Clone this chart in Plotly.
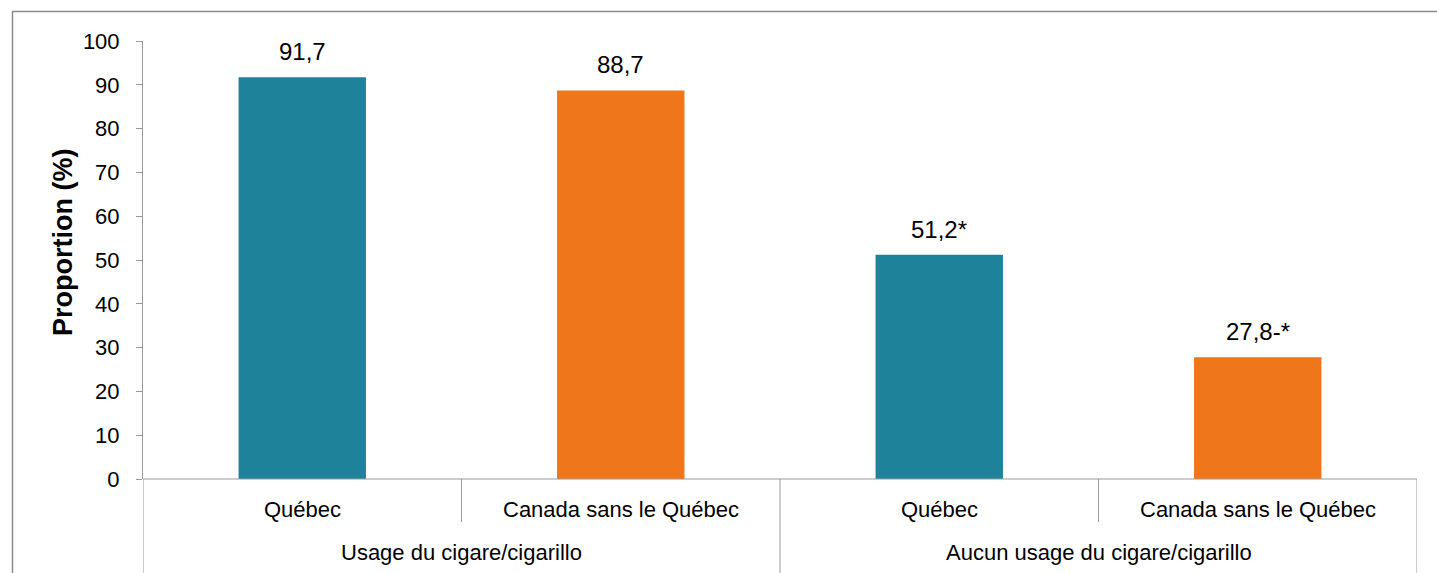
import plotly.graph_objects as go

groups = ["Usage du cigare/cigarillo", "Aucun usage du cigare/cigarillo"]
subcats = ["Québec", "Canada sans le Québec", "Québec", "Canada sans le Québec"]
values = [91.7, 88.7, 51.2, 27.8]
labels = ["91,7", "88,7", "51,2*", "27,8-*"]
colors = ["#1F829B", "#EF761B", "#1F829B", "#EF761B"]
yticks = [0, 10, 20, 30, 40, 50, 60, 70, 80, 90, 100]
ytitle = "Proportion (%)"

W, H = 1437, 573
L, R, T, B = 143, 20, 41, 94
pw, ph = W - L - R, H - T - B

def px_x(p):
    return (p - L) / pw

def px_y(p):
    return (H - B - p) / ph

xs = list(range(len(values)))
font = "Liberation Sans, Arial, Helvetica, sans-serif"
gray = "#9a9a9a"

fig = go.Figure()
fig.add_trace(go.Bar(x=xs, y=values, marker=dict(color=colors, line=dict(width=0)),
                     width=0.4, hoverinfo="skip"))

ann = []
for i, (v, t) in enumerate(zip(values, labels)):
    ann.append(dict(x=i, y=v, text=t, showarrow=False, yanchor="bottom", yshift=10,
                    font=dict(size=24, color="black", family=font)))
for i, s in enumerate(subcats):
    ann.append(dict(x=i, xref="x", y=px_y(510), yref="paper", text=s, showarrow=False,
                    yanchor="middle", font=dict(size=22, color="black", family=font)))
for g_i, g in enumerate(groups):
    ann.append(dict(x=g_i * 2 + 0.5, xref="x", y=px_y(552), yref="paper", text=g,
                    showarrow=False, yanchor="middle", font=dict(size=22, color="black", family=font)))
ann.append(dict(x=px_x(63), xref="paper", y=px_y(243), yref="paper", text="<b>" + ytitle + "</b>",
                textangle=-90, showarrow=False, xanchor="center", yanchor="middle",
                font=dict(size=27, color="black", family=font)))

shapes = []
for xv in [0.5, 2.5]:
    shapes.append(dict(type="line", xref="x", yref="paper", x0=xv, x1=xv, y0=0, y1=px_y(522),
                       line=dict(color=gray, width=1)))
for xv in [-0.5, 1.5, 3.5]:
    shapes.append(dict(type="line", xref="x", yref="paper", x0=xv, x1=xv, y0=0, y1=px_y(580),
                       line=dict(color=gray, width=1)))
shapes.append(dict(type="line", xref="x", yref="paper", x0=-0.5, x1=3.5, y0=0, y1=0,
                   line=dict(color=gray, width=1)))
shapes.append(dict(type="line", xref="paper", yref="paper", x0=px_x(12), x1=px_x(1440),
                   y0=px_y(11.5), y1=px_y(11.5), line=dict(color="#8c8c8c", width=1.5)))
shapes.append(dict(type="line", xref="paper", yref="paper", x0=px_x(12.5), x1=px_x(12.5),
                   y0=px_y(11), y1=px_y(580), line=dict(color="#8c8c8c", width=1.5)))

fig.update_layout(
    width=W, height=H,
    margin=dict(l=L, r=R, t=T, b=B),
    paper_bgcolor="white", plot_bgcolor="white",
    showlegend=False,
    xaxis=dict(range=[-0.5, 3.5], showticklabels=False, showgrid=False, zeroline=False,
               showline=False, ticks="", fixedrange=True),
    yaxis=dict(range=[0, 100], tickvals=yticks, ticktext=[str(v) for v in yticks],
               showgrid=False, zeroline=False, showline=True, linecolor=gray, linewidth=1,
               ticks="outside", ticklen=6, tickcolor=gray, ticklabelstandoff=12,
               tickfont=dict(size=22, color="black", family=font), fixedrange=True),
    annotations=ann,
    shapes=shapes,
)

fig.write_html("out.html", config={"displayModeBar": False},
               post_script="document.body.style.margin='0';document.body.style.overflow='hidden';")
